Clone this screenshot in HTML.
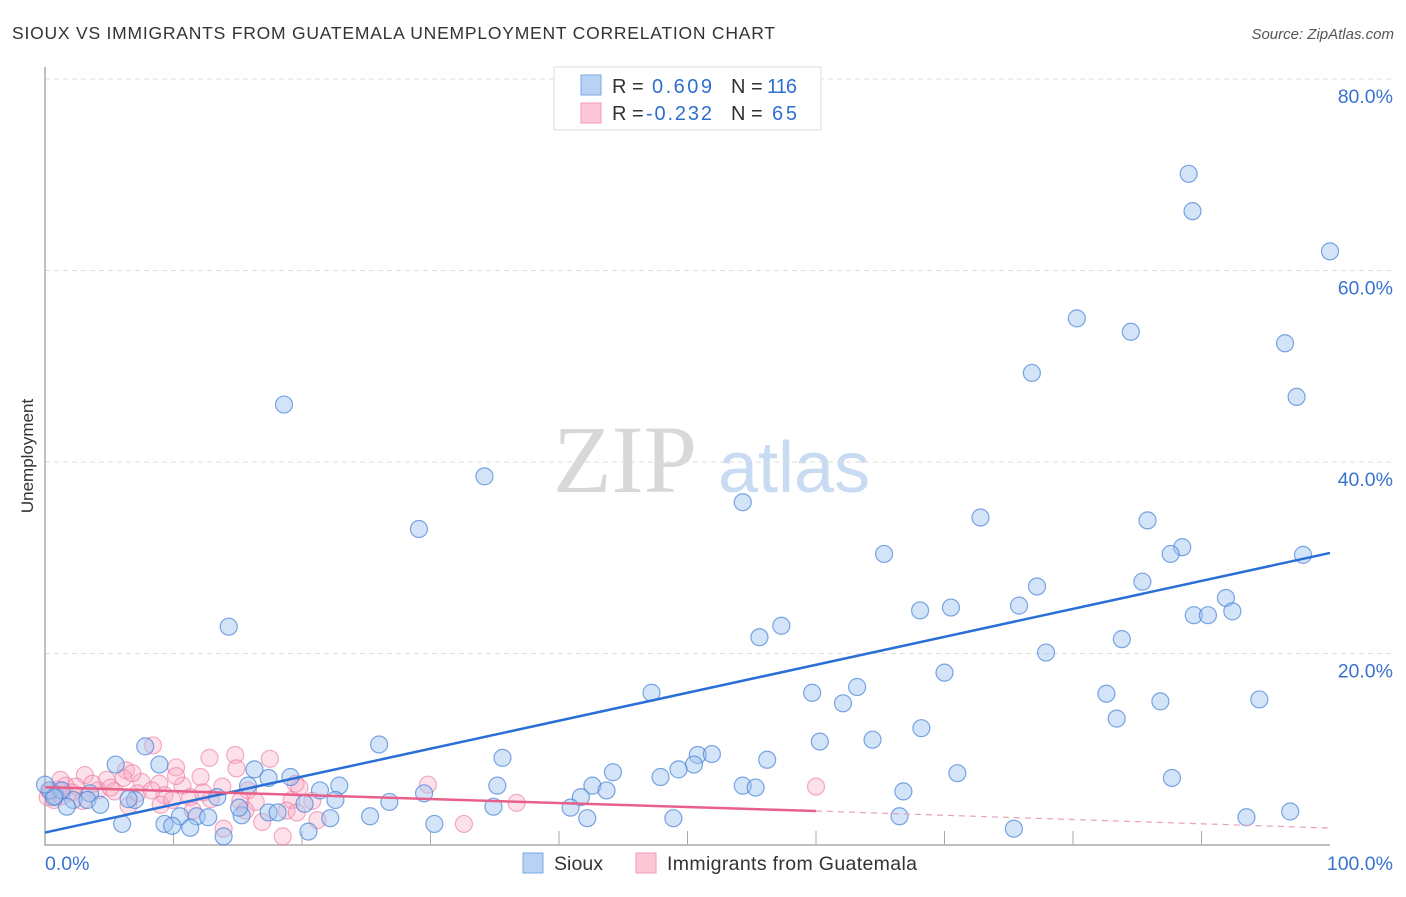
<!DOCTYPE html>
<html><head><meta charset="utf-8"><style>
body{margin:0;background:#fff;font-family:"Liberation Sans",sans-serif}
</style></head><body>
<svg width="1406" height="892" xmlns="http://www.w3.org/2000/svg" id="svg">
<text x="12" y="39" font-size="17.5" fill="#333" textLength="763">SIOUX VS IMMIGRANTS FROM GUATEMALA UNEMPLOYMENT CORRELATION CHART</text>
<text x="1394" y="39" font-size="15" fill="#555" font-style="italic" text-anchor="end">Source: ZipAtlas.com</text>
<text transform="translate(33,456) rotate(-90)" font-size="17" fill="#333" text-anchor="middle">Unemployment</text>
<g><text x="553" y="492" font-family="Liberation Serif,serif" font-size="96" fill="#d8d8d8">ZIP</text><text x="718" y="492" font-size="72" fill="#c8dbf3">atlas</text></g>
<g id="grid"></g><g id="pts"></g><g id="lines"></g>
<g>
<rect x="554" y="67" width="267" height="63" fill="#fff" stroke="#ddd"/>
<rect x="581" y="75" width="20" height="20" fill="#b7d2f5" stroke="#7aa8e6"/>
<rect x="581" y="103" width="20" height="20" fill="#fcc8d8" stroke="#f09ab5"/>
<text x="612" y="93" font-size="20" fill="#333">R = </text><text x="652" y="93" font-size="20" fill="#2f6fd0" textLength="60">0.609</text>
<text x="731" y="93" font-size="20" fill="#333">N = </text><text x="767" y="93" font-size="20" fill="#2f6fd0" textLength="30">116</text>
<text x="612" y="120" font-size="20" fill="#333">R = </text><text x="646" y="120" font-size="20" fill="#2f6fd0" textLength="66">-0.232</text>
<text x="731" y="120" font-size="20" fill="#333">N = </text><text x="772" y="120" font-size="20" fill="#2f6fd0" textLength="25">65</text>
</g>
<g>
<rect x="523" y="853" width="20" height="20" fill="#b7d2f5" stroke="#7aa8e6"/>
<text x="554" y="870" font-size="19.5" fill="#333" textLength="49">Sioux</text>
<rect x="636" y="853" width="20" height="20" fill="#fcc8d8" stroke="#f09ab5"/>
<text x="667" y="870" font-size="19.5" fill="#333" textLength="250">Immigrants from Guatemala</text>
</g>
</svg>
<script>
const yTicks=[20,40,60,80];
const yTickLabels=["20.0%","40.0%","60.0%","80.0%"];
const xTicks=[10,20,30,40,50,60,70,80,90];
const xTickLabels=["0.0%","100.0%"];
const siouxX=[89.0,89.3,100,80.3,84.5,96.5,76.8,97.4,18.6,34.2,54.3,72.8,85.8,29.1,88.5,87.6,65.3,97.9,85.4,77.2,91.9,75.8,68.1,70.5,89.4,90.5,92.4,57.3,14.3,83.8,55.6,77.9,70.0,63.2,47.2,59.7,82.6,86.8,94.5,62.1,83.4,68.2,64.4,60.3,26.0,7.8,50.8,51.9,35.6,56.2,50.5,49.3,5.5,8.9,44.2,71.0,47.9,87.7,16.3,17.4,19.1,15.8,22.9,35.2,42.6,54.3,55.3,43.7,66.8,29.5,21.4,41.7,26.8,22.6,20.2,13.4,7.0,6.5,3.5,2.2,0.8,0.4,3.3,4.3,1.7,1.3,0.7,15.3,17.4,18.1,15.1,34.9,40.9,10.5,11.8,12.7,25.3,22.2,6.0,9.3,11.3,30.3,42.2,48.9,66.5,93.5,96.9,75.4,13.9,20.5,9.9,0];
const siouxY=[70.1,66.2,62.0,55.0,53.6,52.4,49.3,46.8,46.0,38.5,35.8,34.2,33.9,33.0,31.1,30.4,30.4,30.3,27.5,27.0,25.8,25.0,24.5,24.8,24.0,24.0,24.4,22.9,22.8,21.5,21.7,20.1,18.0,16.5,15.9,15.9,15.8,15.0,15.2,14.8,13.2,12.2,11.0,10.8,10.5,10.3,9.4,9.5,9.1,8.9,8.4,7.9,8.4,8.4,7.6,7.5,7.1,7.0,7.9,7.0,7.1,6.2,6.2,6.2,6.2,6.2,6.0,5.7,5.6,5.4,5.7,5.0,4.5,4.7,4.3,5.0,4.7,4.8,5.4,4.7,5.1,5.7,4.7,4.2,4.0,5.7,5.0,3.1,3.4,3.4,3.9,4.0,3.9,3.0,3.0,2.9,3.0,2.8,2.2,2.2,1.8,2.2,2.8,2.8,3.0,2.9,3.5,1.7,0.9,1.4,2.0,6.3];
const guatX=[8.4,10.2,12.8,14.8,17.5,14.9,6.3,6.1,3.1,4.8,12.1,7.5,8.9,10.7,13.8,15.8,19.5,29.8,60.0,1.6,2.4,1.0,0.3,4.1,5.4,7.2,9.3,11.3,12.9,15.2,16.4,19.2,20.8,9.0,6.5,11.5,15.6,18.8,36.7,21.2,16.9,13.9,18.5,32.6,0.7,1.3,2.9,2.1,3.7,5.1,8.3,9.9,12.3,10.2,6.8,19.8,19.6,0.2,1.2];
const guatY=[10.4,8.1,9.1,9.4,9.0,8.0,7.8,7.0,7.3,6.8,7.1,6.6,6.4,6.2,6.1,5.7,6.4,6.3,6.1,6.2,6.1,5.8,5.7,5.7,5.6,5.4,5.2,5.0,4.8,4.6,4.5,4.7,4.6,4.2,4.1,3.6,3.6,3.6,4.4,2.6,2.4,1.7,0.9,2.2,4.7,5.1,4.6,5.5,6.4,6.0,5.7,4.7,5.5,7.2,7.5,6.0,3.4,5.0,6.8];
const siouxTrendX=[0,100], siouxTrendY=[1.3,30.5];
const guatTrendX=[0,60,100], guatTrendY=[6.05,3.55,1.77];
const X=v=>45+v*12.85, Y=v=>845-v*9.575;
const NS="http://www.w3.org/2000/svg";
function mk(p,t,a){const e=document.createElementNS(NS,t);for(const k in a)e.setAttribute(k,a[k]);p.appendChild(e);return e;}
const grid=document.getElementById('grid');
yTicks.forEach((t,i)=>{
 const l=mk(grid,'line',{x1:45,x2:1393,y1:Y(t),y2:Y(t),stroke:'#ddd','stroke-dasharray':'5,4'});
 
 
 const tx=mk(grid,'text',{x:1393,y:Y(t)+24,'font-size':19.5,fill:'#3a72d0','text-anchor':'end'});tx.textContent=yTickLabels[i];
 
 
});
const ax=mk(grid,'path',{d:'M45,67V845H1330',stroke:'#aaa',fill:'none','stroke-width':1.5});


xTicks.forEach(t=>{const l=mk(grid,'line',{x1:X(t),x2:X(t),y1:831,y2:845,stroke:'#aaa'});
 
 });
const x0=mk(grid,'text',{x:45,y:870,'font-size':19.5,fill:'#3a72d0'});x0.textContent=xTickLabels[0];


const x1=mk(grid,'text',{x:1393,y:870,'font-size':19.5,fill:'#3a72d0','text-anchor':'end'});x1.textContent=xTickLabels[1];


const pts=document.getElementById('pts');
guatX.forEach((v,i)=>{const c=mk(pts,'circle',{cx:X(v),cy:Y(guatY[i]),r:8.5,fill:'rgba(248,170,195,0.35)',stroke:'rgba(235,120,160,0.6)','stroke-width':1.2});
 
 });
siouxX.forEach((v,i)=>{const c=mk(pts,'circle',{cx:X(v),cy:Y(siouxY[i]),r:8.5,fill:'rgba(160,195,240,0.45)',stroke:'rgba(70,130,215,0.7)','stroke-width':1.2});
 
 });
const lines=document.getElementById('lines');
const bl=mk(lines,'line',{x1:X(siouxTrendX[0]),y1:Y(siouxTrendY[0]),x2:X(siouxTrendX[1]),y2:Y(siouxTrendY[1]),stroke:'#2a6fd6','stroke-width':2.5});


const pl=mk(lines,'line',{x1:X(guatTrendX[0]),y1:Y(guatTrendY[0]),x2:X(guatTrendX[1]),y2:Y(guatTrendY[1]),stroke:'#e8608a','stroke-width':2.5});


const pd=mk(lines,'line',{x1:X(guatTrendX[1]),y1:Y(guatTrendY[1]),x2:X(guatTrendX[2]),y2:Y(guatTrendY[2]),stroke:'#e8a0b8','stroke-width':1.2,'stroke-dasharray':'6,5'});


</script>
</body></html>
